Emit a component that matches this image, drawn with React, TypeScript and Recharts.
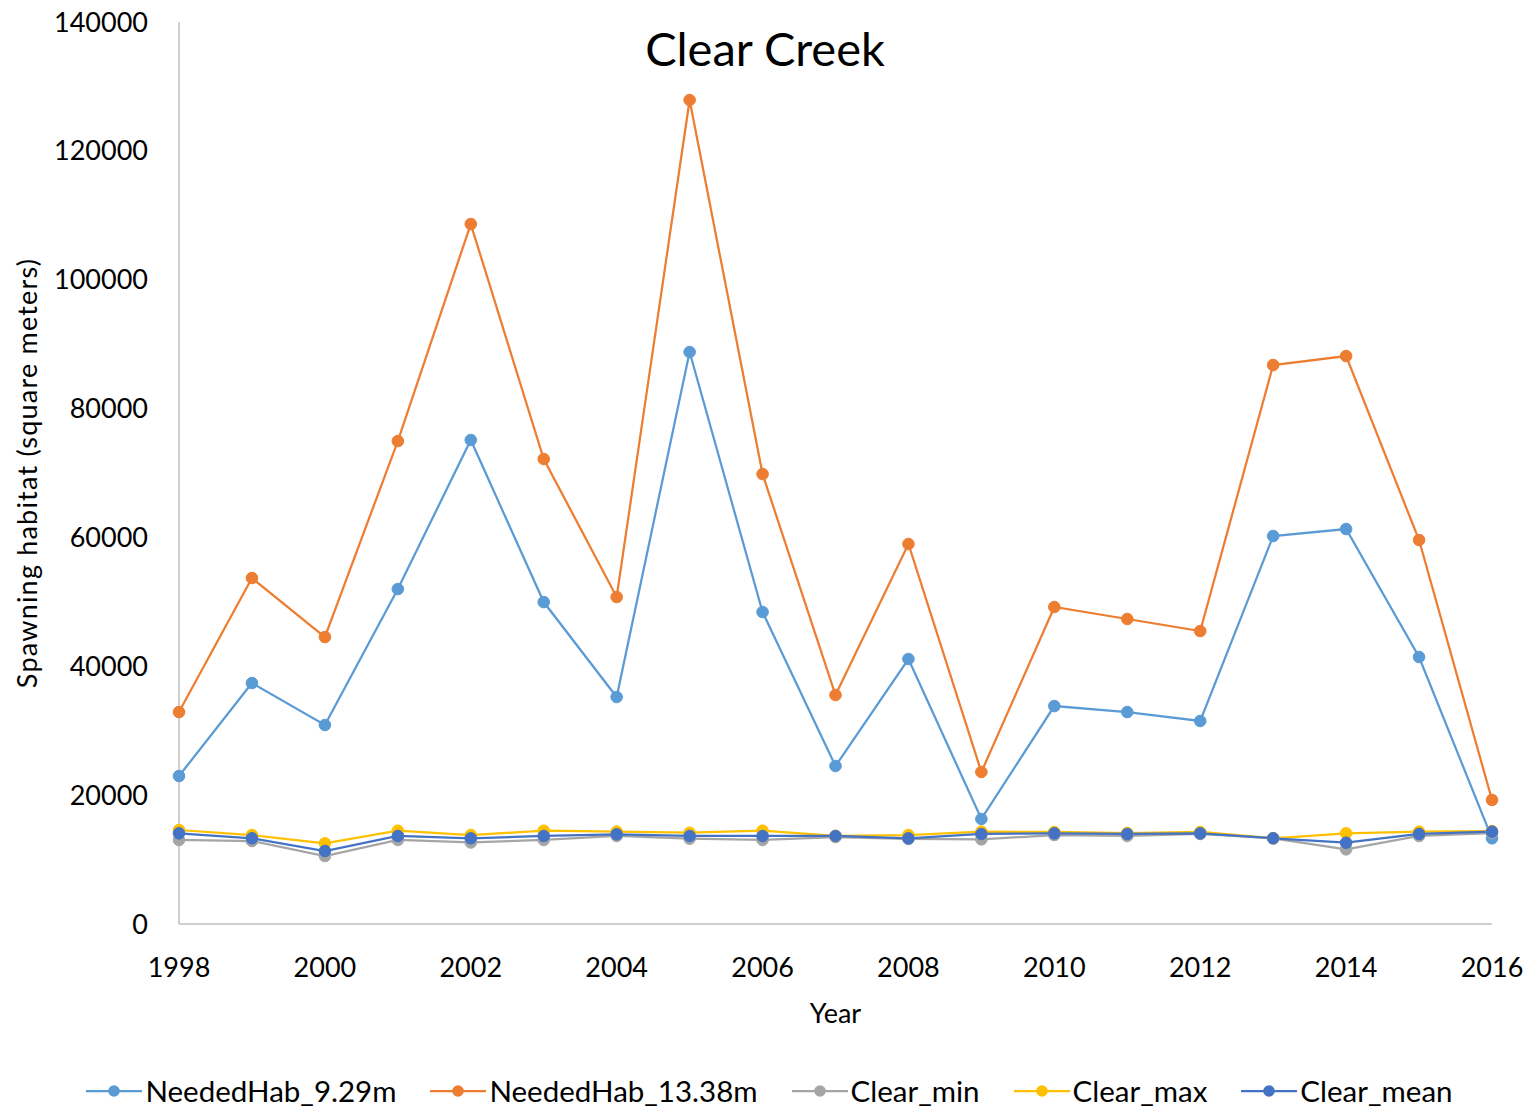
import React from "react";
import { LineChart, Line, XAxis, YAxis, Label } from "recharts";

const years = [1998, 1999, 2000, 2001, 2002, 2003, 2004, 2005, 2006, 2007, 2008, 2009, 2010, 2011, 2012, 2013, 2014, 2015, 2016];

const neededHab929 = [22970, 37400, 30890, 51990, 75120, 49970, 35230, 88780, 48420, 24520, 41130, 16300, 33830, 32900, 31510, 60220, 61300, 41440, 13300];
const neededHab1338 = [32900, 53700, 44540, 74960, 108640, 72170, 50750, 127890, 69840, 35540, 58980, 23590, 49200, 47340, 45470, 86760, 88150, 59600, 19250];
const clearMin = [13040, 12880, 10550, 13040, 12650, 13040, 13660, 13240, 13040, 13500, 13200, 13140, 13810, 13660, 13970, 13300, 11590, 13660, 14120];
const clearMax = [14590, 13810, 12520, 14480, 13810, 14480, 14330, 14170, 14480, 13660, 13810, 14330, 14280, 14120, 14280, 13300, 14070, 14330, 14430];
const clearMean = [14070, 13300, 11330, 13660, 13300, 13660, 13920, 13660, 13660, 13660, 13300, 13970, 14070, 13970, 14070, 13300, 12620, 13970, 14330];

const yTicks = [0, 20000, 40000, 60000, 80000, 100000, 120000, 140000];
const xTicks = [1998, 2000, 2002, 2004, 2006, 2008, 2010, 2012, 2014, 2016];

const series = [
  { key: "n929", name: "NeededHab_9.29m", color: "#5B9BD5", values: neededHab929 },
  { key: "n1338", name: "NeededHab_13.38m", color: "#ED7D31", values: neededHab1338 },
  { key: "min", name: "Clear_min", color: "#A5A5A5", values: clearMin },
  { key: "max", name: "Clear_max", color: "#FFC000", values: clearMax },
  { key: "mean", name: "Clear_mean", color: "#4472C4", values: clearMean },
];

const data = years.map((year, i) => {
  const row: Record<string, number> = { year };
  series.forEach((s) => (row[s.key] = s.values[i]));
  return row;
});

const FONT = "Lato, 'Open Sans', sans-serif";
const tickStyle = { fill: "#000", fontSize: 27, fontFamily: FONT };

export default function App() {
  return (
    <div style={{ position: "absolute", left: 0, top: 0, width: 1539, height: 1109, background: "#fff", fontFamily: FONT }}>
      <LineChart width={1539} height={1109} data={data} margin={{ top: 22, right: 47, left: 0, bottom: 0 }}>
        <XAxis
          dataKey="year"
          type="number"
          domain={[1998, 2016]}
          ticks={xTicks}
          height={185}
          stroke="#bfbfbf"
          strokeWidth={1.5}
          tickLine={false}
          tickSize={0}
          tickMargin={34}
          tick={tickStyle}
        >
          <Label value="Year" position="center" dy={-3} style={{ fill: "#000", fontSize: 27, fontFamily: FONT }} />
        </XAxis>
        <YAxis
          domain={[0, 140000]}
          ticks={yTicks}
          width={179}
          stroke="#bfbfbf"
          strokeWidth={1.5}
          tickLine={false}
          tickSize={0}
          tickMargin={31}
          tick={tickStyle}
        >
          <Label
            value="Spawning habitat (square meters)"
            angle={-90}
            position="center"
            dx={-62}
            style={{ fill: "#000", fontSize: 27, letterSpacing: 1.2, fontFamily: FONT }}
          />
        </YAxis>
        {series.map((s) => (
          <Line
            key={s.key}
            dataKey={s.key}
            name={s.name}
            stroke={s.color}
            strokeWidth={2.25}
            dot={{ r: 5.8, fill: s.color, stroke: s.color, strokeWidth: 1 }}
            isAnimationActive={false}
          />
        ))}
      </LineChart>
      <div
        style={{
          position: "absolute",
          left: 0,
          top: 21,
          width: 1530,
          textAlign: "center",
          fontSize: 47,
          lineHeight: "54px",
          color: "#000",
        }}
      >
        Clear Creek
      </div>
      <div
        style={{
          position: "absolute",
          left: 0,
          top: 1072,
          width: 1539,
          display: "flex",
          justifyContent: "center",
          gap: 34,
          fontSize: 29.5,
          lineHeight: "38px",
          color: "#000",
        }}
      >
        {series.map((s) => (
          <div key={s.key} style={{ display: "flex", alignItems: "center" }}>
            <svg width={56} height={20} style={{ marginRight: 3 }}>
              <line x1={0} y1={10} x2={56} y2={10} stroke={s.color} strokeWidth={2.25} />
              <circle cx={28} cy={10} r={5.8} fill={s.color} />
            </svg>
            <span>{s.name}</span>
          </div>
        ))}
      </div>
    </div>
  );
}
